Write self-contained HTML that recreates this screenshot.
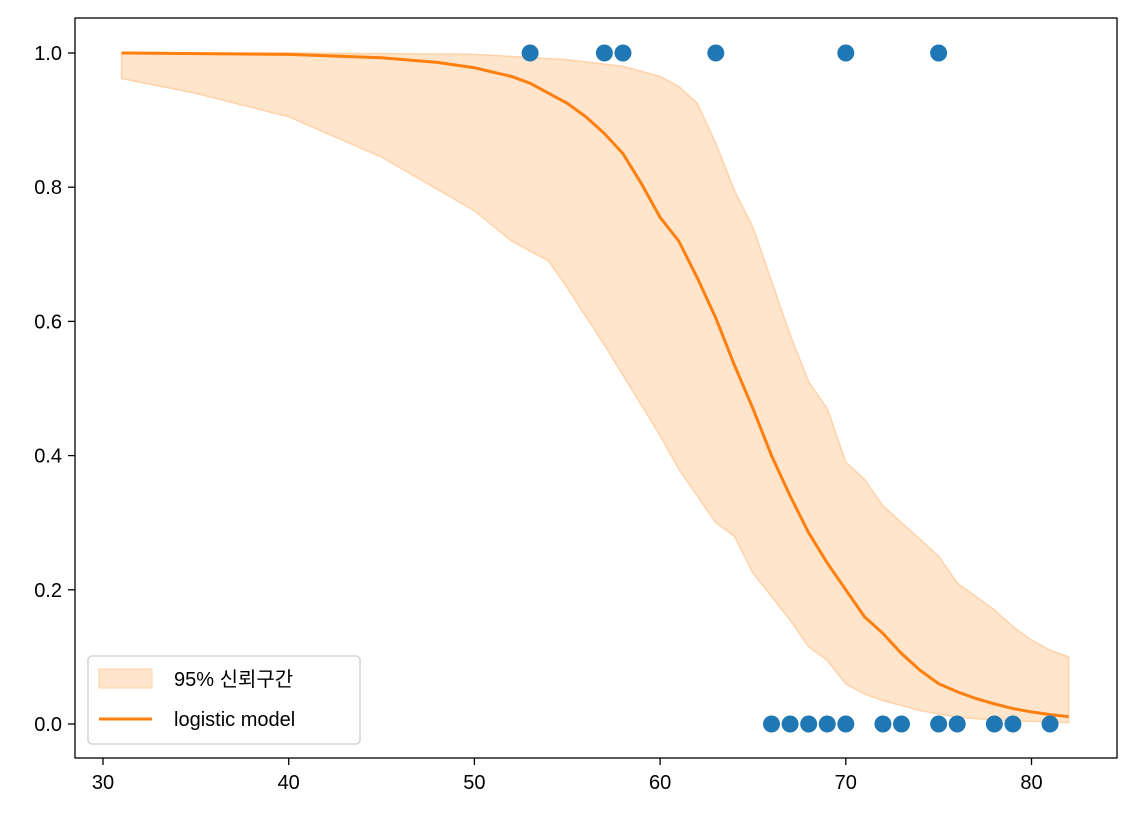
<!DOCTYPE html>
<html><head><meta charset="utf-8"><style>
html,body{margin:0;padding:0;background:#fff;}
svg text{font-family:"Liberation Sans","Noto Sans CJK KR",sans-serif;font-size:20px;fill:#000;}
</style></head><body>
<svg id="s" width="1135" height="823" xmlns="http://www.w3.org/2000/svg"></svg>
<script>
const X=v=>103+(v-30)*18.57, Y=p=>724-671*p;
let h='';
const up=[[31,1],[40,1],[50,.998],[55,.99],[58,.98],[60,.965],[61,.95],[62,.925],[63,.865],[64,.795],[65,.74],[66,.66],[67,.58],[68,.51],[69,.47],[70,.39],[71,.365],[72,.325],[73,.3],[74,.275],[75,.25],[76,.21],[77,.19],[78,.17],[79,.145],[80,.125],[81,.11],[82,.1]];
const lo=[[31,.962],[35,.94],[40,.905],[45,.845],[50,.765],[52,.72],[54,.69],[55,.65],[57,.565],[58,.52],[60,.43],[61,.38],[62,.34],[63,.30],[64,.28],[65,.225],[66,.19],[67,.155],[68,.115],[69,.095],[70,.06],[71,.045],[72,.035],[74,.02],[76,.01],[78,.006],[82,.002]];
let pts=up.map(a=>X(a[0])+','+Y(a[1])).concat(lo.slice().reverse().map(a=>X(a[0])+','+Y(a[1])));
h+=`<polygon points="${pts.join(' ')}" fill="#ffe5cc" stroke="#ffd2a8" stroke-width="1.5"/>`;
const cv=[[31,1],[40,.998],[45,.993],[48,.986],[50,.978],[52,.965],[53,.955],[54,.94],[55,.925],[56,.905],[57,.88],[58,.85],[59,.805],[60,.755],[61,.72],[62,.665],[63,.605],[64,.535],[65,.47],[66,.4],[67,.34],[68,.285],[69,.24],[70,.2],[71,.16],[72,.135],[73,.105],[74,.08],[75,.06],[76,.048],[77,.038],[78,.03],[79,.023],[80,.018],[81,.014],[82,.011]];
h+=`<polyline points="${cv.map(a=>X(a[0])+','+Y(a[1])).join(' ')}" fill="none" stroke="#ff7f0e" stroke-width="3"/>`;
[53,57,58,63,70,75].forEach(v=>h+=`<circle cx="${X(v)}" cy="${Y(1)}" r="8.5" fill="#1f77b4"/>`);
[66,67,68,69,70,72,73,75,76,78,79,81].forEach(v=>h+=`<circle cx="${X(v)}" cy="${Y(0)}" r="8.5" fill="#1f77b4"/>`);
h+=`<rect x="75" y="18" width="1042" height="740" fill="none" stroke="#000" stroke-width="1.3"/>`;
for(let v=30;v<=80;v+=10){h+=`<line x1="${X(v)}" y1="758" x2="${X(v)}" y2="765" stroke="#000" stroke-width="1.3"/><text x="${X(v)}" y="789" text-anchor="middle">${v}</text>`;}
for(let i=0;i<=5;i++){const p=i*0.2;h+=`<line x1="68" y1="${Y(p)}" x2="75" y2="${Y(p)}" stroke="#000" stroke-width="1.3"/><text x="62" y="${Y(p)+7}" text-anchor="end">${p.toFixed(1)}</text>`;}
h+=`<rect x="88" y="656" width="272" height="88" rx="4" fill="#fff" fill-opacity="0.8" stroke="#ccc" stroke-width="1.3"/>`;
h+=`<rect x="99" y="669" width="53" height="19" fill="#ffe5cc" stroke="#ffd2a8"/><text x="174" y="686">95% 신뢰구간</text>`;
h+=`<line x1="99" y1="719" x2="152" y2="719" stroke="#ff7f0e" stroke-width="3"/><text x="174" y="726">logistic model</text>`;
document.getElementById('s').innerHTML=h;
</script>
</body></html>
